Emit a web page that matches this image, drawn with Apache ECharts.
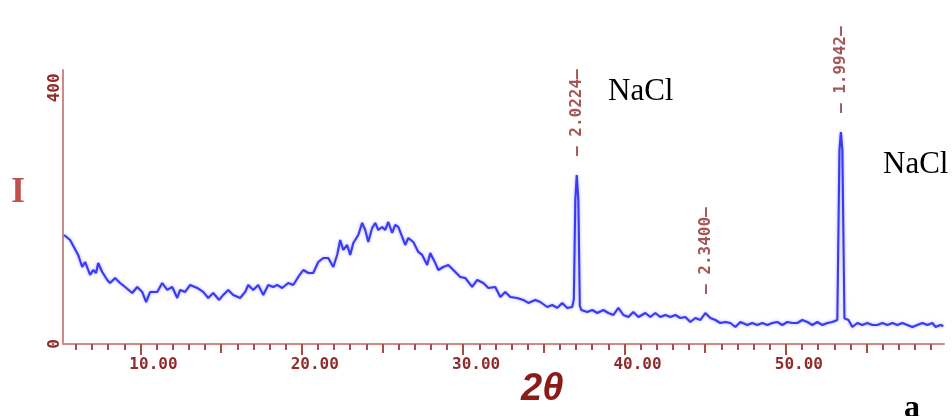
<!DOCTYPE html>
<html>
<head>
<meta charset="utf-8">
<script src="https://cdn.jsdelivr.net/npm/echarts@6/dist/echarts.min.js"></script>
<style>
html,body{margin:0;padding:0;background:#fff;}
#chart{width:952px;height:416px;}
</style>
</head>
<body>
<div id="chart"></div>
<script>
// ---- data (2θ, intensity) ----
const twoTheta = [
  5.27,5.64,6.14,6.39,6.57,6.88,7.07,7.25,7.38,7.63,7.94,8.12,8.43,8.74,9.05,9.49,9.80,10.11,10.35,10.60,
  11.04,11.35,11.66,11.97,12.28,12.46,12.77,13.08,13.52,13.89,14.20,14.51,14.88,15.13,15.44,15.75,16.18,16.49,16.68,16.99,
  17.30,17.61,17.92,18.23,18.47,18.78,19.16,19.47,19.78,20.09,20.40,20.71,21.02,21.33,21.64,21.95,22.19,22.38,22.57,22.81,
  23.00,23.19,23.50,23.74,23.93,24.12,24.36,24.55,24.74,24.98,25.17,25.36,25.60,25.79,25.98,26.22,26.41,26.60,26.91,27.22,
  27.46,27.77,27.96,28.27,28.46,28.77,29.08,29.39,29.82,30.13,30.56,30.87,31.25,31.56,31.99,32.30,32.61,32.92,33.35,33.73,
  34.04,34.47,34.78,35.21,35.52,35.83,36.14,36.45,36.76,36.86,36.95,37.04,37.14,37.23,37.32,37.69,38.00,38.31,38.69,39.00,
  39.31,39.62,39.93,40.24,40.55,40.86,41.29,41.60,41.91,42.22,42.53,42.84,43.15,43.46,43.77,44.08,44.39,44.70,45.01,45.32,
  45.63,45.94,46.25,46.56,46.87,47.18,47.61,47.92,48.23,48.54,48.85,49.16,49.47,49.78,50.09,50.40,50.71,51.02,51.33,51.64,
  51.95,52.26,52.57,52.88,53.19,53.32,53.41,53.50,53.63,53.88,54.12,54.43,54.74,55.05,55.36,55.67,55.98,56.29,56.60,56.91,
  57.22,57.53,57.84,58.15,58.46,58.77,59.08,59.27,59.58,59.76
];
const intensity = [
  170.3,162.5,139.1,120.3,128.1,107.8,115.6,110.9,126.6,112.5,100,95.3,103.1,95.3,89.1,79.7,89.1,81.3,65.6,81.3,
  81.3,95.3,84.4,89.1,71.9,84.4,81.3,92.2,87.5,81.3,71.9,79.7,68.8,76.6,84.4,76.6,71.9,81.3,92.2,84.4,
  92.2,76.6,92.2,89.1,92.2,87.5,95.3,92.2,104.7,115.6,110.9,110.9,128.1,134.4,134.4,120.3,139.1,162.5,146.9,154.7,
  139.1,157.8,170.3,189.1,178.1,159.4,181.3,189.1,178.1,182.8,178.1,190.6,173.4,185.9,182.8,167.2,154.7,165.6,159.4,143.8,
  139.1,123.4,142.2,126.6,115.6,120.3,123.4,115.6,104.7,103.1,89.1,100,95.3,87.5,89.1,73.4,81.3,73.4,71.9,68.8,
  64.1,68.8,65.6,57.8,60.9,56.3,64.1,56.3,57.8,70,225,264,225,60,53.1,50,53.1,48.4,53.1,48.4,
  45.3,56.3,45.3,42.2,50,42.2,48.4,42.2,48.4,42.2,45.3,42.2,45.3,40.6,42.2,34.4,40.6,37.5,48.4,40.6,
  37.5,32.8,34.4,32.8,26.6,34.4,29.7,32.8,29.7,32.8,29.7,32.8,34.4,29.7,34.4,32.8,32.8,37.5,34.4,29.7,
  34.4,29.7,32.8,34.4,37.5,303,331,303,40,37.5,26.6,32.8,29.7,32.8,29.7,29.7,32.8,29.7,32.8,29.7,
  32.8,29.7,26.6,29.7,32.8,29.7,32.8,26.6,29.7,28.1
];
// peak annotations (d-spacing labels) at these 2θ positions
const peakTwoTheta = [37.04, 45.01, 53.41];
const peakLabels = ['2.0224', '2.3400', '1.9942'];
// axis ticks
const xLabelTicks = [10, 20, 30, 40, 50];
const xMidTicks = [15, 25, 35, 45, 55];
const xMinorTicks = [];
for (let v = 6; v <= 59; v++) xMinorTicks.push(v);
const yLabelTicks = [0, 400];
const xRange = [5.2, 59.8];
const yRange = [0, 428];

const lineData = twoTheta.map((x, i) => [x, intensity[i]]);
const peakData = peakTwoTheta.map((x, k) => ({
  value: [x, intensity[twoTheta.indexOf(x)]],
  label: { formatter: '\u2014 ' + peakLabels[k] + '\u2014' }
}));

const axisRed = '#cf8a88';
const tickRed = '#a84c4a';
const labelRed = '#8f2b2b';
const tickFont = { color: labelRed, fontFamily: 'DejaVu Sans Mono', fontWeight: 'bold', fontSize: 16 };

function xAx(ticks, len, showLine, showLabel) {
  return {
    type: 'value', gridIndex: 0, position: 'bottom', min: xRange[0], max: xRange[1],
    axisLine: { show: showLine, lineStyle: { color: axisRed, width: 2 } },
    axisTick: { show: true, customValues: ticks, length: len, lineStyle: { color: tickRed, width: 2 } },
    axisLabel: showLabel ? Object.assign({
      show: true, customValues: xLabelTicks, margin: 13, padding: [0, 0, 0, 26],
      formatter: v => v.toFixed(2)
    }, tickFont) : { show: false },
    splitLine: { show: false }
  };
}

const chart = echarts.init(document.getElementById('chart'), null, { renderer: 'canvas' });
chart.setOption({
  animation: false,
  backgroundColor: '#ffffff',
  grid: { left: 63, right: 8, top: 70, bottom: 72, containLabel: false },
  xAxis: [
    xAx(xLabelTicks, 11, true, true),
    xAx(xMidTicks, 9, false, false),
    xAx(xMinorTicks, 6, false, false)
  ],
  yAxis: {
    type: 'value', min: yRange[0], max: yRange[1], interval: 400,
    axisLine: { show: true, lineStyle: { color: axisRed, width: 2 } },
    axisTick: { show: false },
    axisLabel: Object.assign({ customValues: yLabelTicks, rotate: 90, margin: 0 }, tickFont),
    splitLine: { show: false }
  },
  series: [{
    type: 'line', xAxisIndex: 0, yAxisIndex: 0,
    data: lineData,
    showSymbol: false, symbol: 'none',
    lineStyle: { color: '#3a3af0', width: 2.1, shadowColor: 'rgba(70,70,255,0.5)', shadowBlur: 3 },
    z: 3
  }, {
    type: 'scatter', xAxisIndex: 0, yAxisIndex: 0,
    data: peakData,
    symbolSize: 0,
    silent: true,
    label: {
      show: true, position: 'top', distance: 19, rotate: 90, align: 'left', verticalAlign: 'middle',
      color: labelRed, fontFamily: 'DejaVu Sans Mono', fontWeight: 'bold', fontSize: 16
    },
    z: 4
  }],
  graphic: [
    { type: 'text', left: 608, top: 76, style: { text: 'NaCl', fill: '#000', font: '31px "Liberation Serif"' } },
    { type: 'text', left: 883, top: 149, style: { text: 'NaCl', fill: '#000', font: '31px "Liberation Serif"' } },
    { type: 'text', left: 11, top: 175, style: { text: 'I', fill: '#c0504d', font: 'bold 36px "Liberation Serif"' } },
    { type: 'text', left: 521, top: 371, style: { text: '2\u03b8', fill: '#8c1a1a', font: 'italic bold 38px "Liberation Sans"' } },
    { type: 'text', left: 904, top: 393, style: { text: 'a', fill: '#000', font: 'bold 32px "Liberation Serif"' } }
  ]
});
</script>
</body>
</html>
